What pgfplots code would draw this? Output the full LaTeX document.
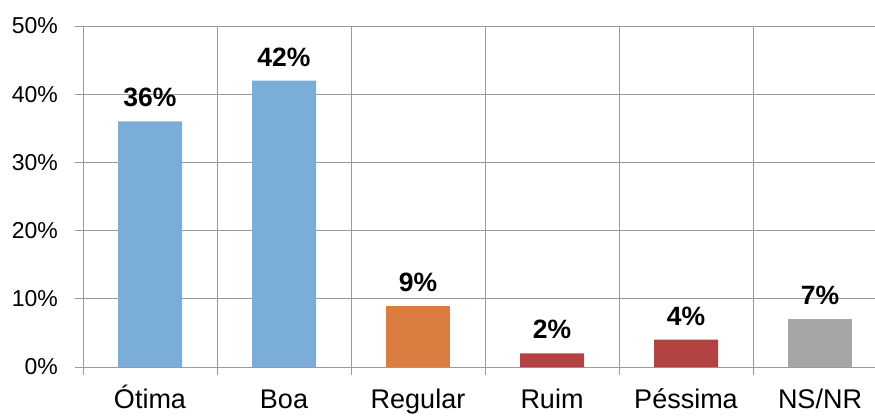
\documentclass[border=0pt]{standalone}
\usepackage{pgfplots}
\pgfplotsset{compat=1.18}
\usepackage{fontspec}
\setmainfont{Liberation Sans}

\definecolor{gridgray}{RGB}{155,155,155}
\definecolor{barblue}{RGB}{122,174,216}
\definecolor{barorange}{RGB}{219,125,64}
\definecolor{barred}{RGB}{180,66,66}
\definecolor{bargray}{RGB}{166,166,166}

\begin{document}
\begin{tikzpicture}
  \begin{axis}[
      scale only axis,
      width=804pt, height=341pt,
      xmin=-0.5, xmax=5.5,
      ymin=0, ymax=50,
      /pgf/number format/assume math mode=true,
      axis line style={draw=gridgray, line width=1pt},
      ytick={0,10,20,30,40,50},
      yticklabels={0\%,10\%,20\%,30\%,40\%,50\%},
      ymajorgrids,
      grid style={draw=gridgray, line width=1pt},
      ytick pos=left,
      xtick pos=bottom,
      tick align=outside,
      major tick length=8pt,
      y tick style={draw=gridgray, line width=1pt},
      x tick style={draw=none},
      xtick={0,1,2,3,4,5},
      xticklabels={Ótima,Boa,Regular,Ruim,Péssima,NS/NR},
      extra x ticks={-0.5,0.5,1.5,2.5,3.5,4.5,5.5},
      extra x tick labels={},
      extra x tick style={grid=major,
        x tick style={draw=gridgray, line width=1pt}},
      yticklabel style={font=\fontsize{23}{25}\selectfont, inner sep=0pt,
        anchor=east, xshift=-17pt},
      xticklabel style={font=\fontsize{27}{29}\selectfont, inner sep=0pt,
        anchor=base, yshift=-33pt},
      every node near coord/.append style={font=\bfseries\fontsize{26.5}{28}\selectfont,
        inner sep=0pt, anchor=south, yshift=14pt, text=black},
      nodes near coords={\pgfmathprintnumber{\pgfplotspointmeta}\%},
    ]
    \addplot[ybar, bar width=64pt, bar shift=0pt, fill=barblue, draw=none]
      coordinates {(0,36) (1,42)};
    \addplot[ybar, bar width=64pt, bar shift=0pt, fill=barorange, draw=none]
      coordinates {(2,9)};
    \addplot[ybar, bar width=64pt, bar shift=0pt, fill=barred, draw=none]
      coordinates {(3,2) (4,4)};
    \addplot[ybar, bar width=64pt, bar shift=0pt, fill=bargray, draw=none]
      coordinates {(5,7)};
  \end{axis}
  \pgfresetboundingbox
  \path[use as bounding box] (-83pt,-48pt) rectangle (792pt,367pt);
\end{tikzpicture}
\end{document}
